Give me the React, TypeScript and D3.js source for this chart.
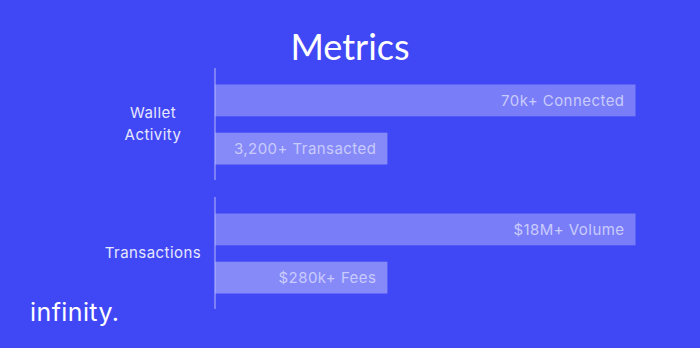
import React from "react";
import * as d3 from "d3";

const title = "Metrics";
const brand = "infinity.";
const groups = ["Wallet Activity", "Transactions"];
const groupLines = [["Wallet", "Activity"], ["Transactions"]];
const barLabels = [
  ["70k+ Connected", "3,200+ Transacted"],
  ["$18M+ Volume", "$280k+ Fees"],
];
// displayed bar length, percent of the longest bar
const barShare = [
  [100, 41],
  [100, 41],
];

const W = 700;
const H = 348;
const BG = "#4047F5";

export default function App() {
  const x = d3.scaleLinear().domain([0, 100]).range([215, 635.5]);
  const y = d3.scaleBand<string>().domain(groups).range([68, 309]).paddingInner(0.132).paddingOuter(0);
  const inner = d3
    .scaleBand<number>()
    .domain([0, 1])
    .range([16.5, 96.5])
    .paddingInner(0.34);
  const barFill = ["rgba(255,255,255,0.30)", "rgba(255,255,255,0.37)"];

  return (
    <svg
      width={W}
      height={H}
      style={{ position: "absolute", left: 0, top: 0, display: "block" }}
    >
      <rect x={0} y={0} width={W} height={H} fill={BG} />
      <text
        x={350}
        y={60}
        textAnchor="middle"
        fill="#ffffff"
        fontFamily="Lato, sans-serif"
        fontSize={36}
      >
        {title}
      </text>
      {groups.map((g, gi) => {
        const gy = y(g)!;
        const bw = y.bandwidth();
        const lines = groupLines[gi];
        const lh = 22;
        const cy = gy + bw / 2;
        return (
          <g key={g}>
            {barShare[gi].map((v, bi) => {
              const by = gy + inner(bi)!;
              const bh = inner.bandwidth();
              return (
                <g key={bi}>
                  <rect
                    x={x(0)}
                    y={by}
                    width={x(v) - x(0)}
                    height={bh}
                    fill={barFill[bi]}
                  />
                  <text
                    x={x(v) - 11}
                    y={by + bh / 2}
                    dy="0.35em"
                    textAnchor="end"
                    fill="#C9CBFC"
                    fontFamily="Inter, sans-serif"
                    fontSize={15}
                    letterSpacing={0.45}
                  >
                    {barLabels[gi][bi]}
                  </text>
                </g>
              );
            })}
            <line
              x1={x(0)}
              x2={x(0)}
              y1={gy}
              y2={gy + bw}
              stroke="#B8BAFB"
              strokeWidth={1}
            />
            {lines.map((l, li) => (
              <text
                key={li}
                x={153}
                y={cy + (li - (lines.length - 1) / 2) * lh}
                dy="0.35em"
                textAnchor="middle"
                fill="#E6E7FE"
                fontFamily="Inter, sans-serif"
                fontSize={15}
                letterSpacing={0.45}
              >
                {l}
              </text>
            ))}
          </g>
        );
      })}
      <text
        x={30}
        y={321}
        fill="#ffffff"
        fontFamily="Inter, sans-serif"
        fontSize={25}
        letterSpacing={0.4}
      >
        {brand}
      </text>
    </svg>
  );
}
